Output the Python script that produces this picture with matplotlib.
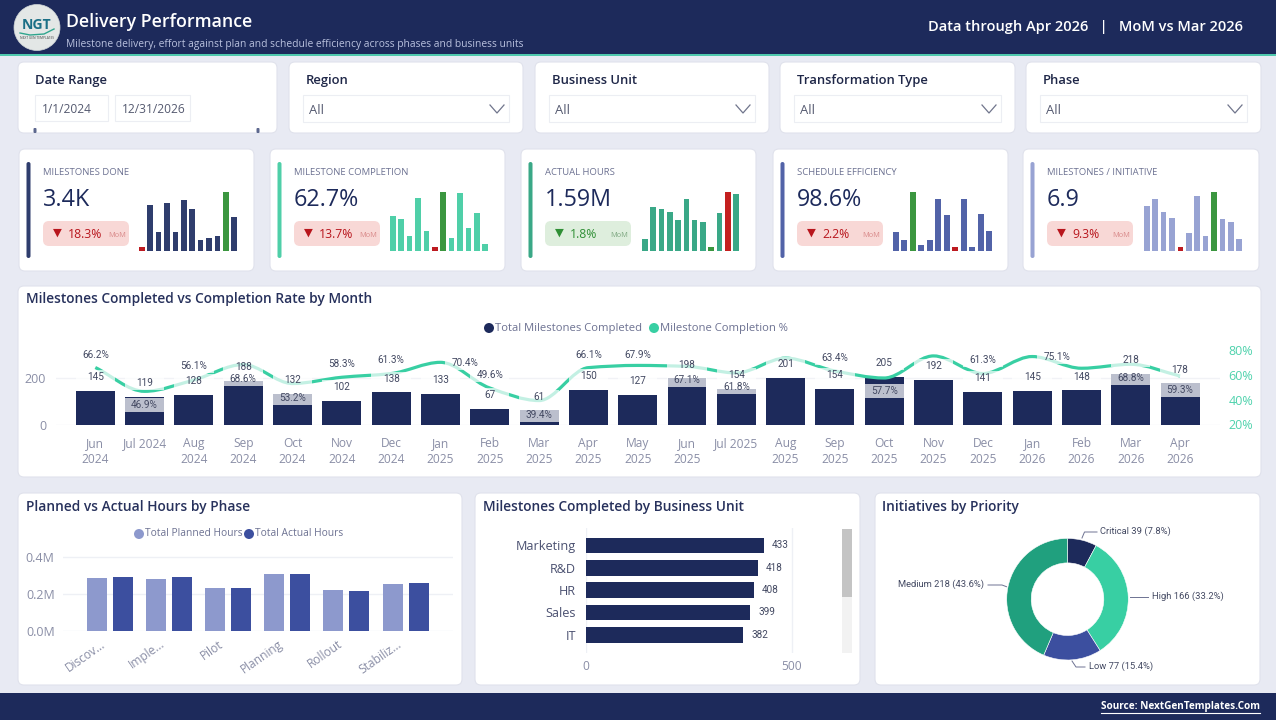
import numpy as np
import matplotlib
matplotlib.use('Agg')
import matplotlib.pyplot as plt
from matplotlib.patches import FancyBboxPatch, Rectangle, Circle, PathPatch
from matplotlib.path import Path

W, H = 1276, 720
plt.rcParams['font.family'] = ['Open Sans', 'DejaVu Sans']

# Datos
months = ['Jun\n2024', 'Jul 2024', 'Aug\n2024', 'Sep\n2024', 'Oct\n2024', 'Nov\n2024', 'Dec\n2024', 'Jan\n2025',
          'Feb\n2025', 'Mar\n2025', 'Apr\n2025', 'May\n2025', 'Jun\n2025', 'Jul 2025', 'Aug\n2025', 'Sep\n2025',
          'Oct\n2025', 'Nov\n2025', 'Dec\n2025', 'Jan\n2026', 'Feb\n2026', 'Mar\n2026', 'Apr\n2026']
milestones = [145, 119, 128, 188, 132, 102, 138, 133, 67, 61, 150, 127, 198, 154, 201, 154, 205, 192, 141, 145, 148, 218, 178]
completion = [66.2, 46.9, 56.1, 68.6, 53.2, 58.3, 61.3, 70.4, 49.6, 39.4, 66.1, 67.9, 67.1, 61.8, 73.8, 63.4, 57.7, 75.6,
              61.3, 75.1, 65.6, 68.8, 59.3]
hidden_pct = [14, 17, 20]

phases = ['Discov...', 'Imple...', 'Pilot', 'Planning', 'Rollout', 'Stabiliz...']
planned_hours = [283000, 279000, 232000, 308000, 222000, 252000]
actual_hours = [292000, 292000, 232000, 308000, 216000, 259000]

units = ['Marketing', 'R&D', 'HR', 'Sales', 'IT']
unit_done = [433, 418, 408, 399, 382]

priorities = ['Critical', 'High', 'Low', 'Medium']
priority_count = [39, 166, 77, 218]

kpi_names = ['MILESTONES DONE', 'MILESTONE COMPLETION', 'ACTUAL HOURS', 'SCHEDULE EFFICIENCY', 'MILESTONES / INITIATIVE']
kpi_values = ['3.4K', '62.7%', '1.59M', '98.6%', '6.9']
kpi_delta = ['18.3%', '13.7%', '1.8%', '2.2%', '9.3%']
kpi_good = [False, False, True, False, False]
spark1 = [10, 138, 56, 144, 56, 151, 126, 31, 39, 45, 176, 101]
spark2 = [103, 96, 44, 159, 59, 10, 176, 39, 173, 68, 112, 19]
spark3 = [36, 132, 124, 115, 93, 155, 93, 85, 10, 112, 176, 171]
spark4 = [56, 31, 176, 18, 31, 156, 107, 10, 154, 10, 111, 59]
spark5 = [133, 156, 116, 98, 10, 54, 163, 45, 176, 94, 85, 36]

filters = ['Region', 'Business Unit', 'Transformation Type', 'Phase']

# Estilos
NAVY = '#1d2a5b'
TEAL = '#38cfa3'
GREEN2 = '#20a07e'
BLUE = '#3c4f9f'
LILAC = '#8d99cd'
BG = '#e8eaf3'
TITLE = '#27315c'
GREY = '#8a8ea6'
LABEL = '#434962'
DATA_FONT = ['Roboto', 'DejaVu Sans']
UP = '#3b963f'
DOWN = '#bd1a20'

def fs(px):
    return px * 0.72

fig = plt.figure(figsize=(W / 100, H / 100), dpi=100, facecolor=BG)

bg = fig.add_axes([0, 0, 1, 1], zorder=0)
bg.set_xlim(0, W)
bg.set_ylim(H, 0)
bg.axis('off')

def px_axes(x0, y0, x1, y1, z=2):
    a = fig.add_axes([x0 / W, 1 - y1 / H, (x1 - x0) / W, (y1 - y0) / H], zorder=z)
    a.patch.set_alpha(0)
    return a

def card(x0, y0, x1, y1):
    bg.add_patch(FancyBboxPatch((x0, y0), x1 - x0, y1 - y0, boxstyle='round,pad=0,rounding_size=6',
                                fc='white', ec='#e0e2ec', lw=0.8))

def put(x, y, s, px, color=LABEL, ha='left', weight='normal', family=None):
    return bg.text(x, y + 1, s, fontsize=fs(px), color=color, ha=ha, va='center', weight=weight,
                   family=family if family else plt.rcParams['font.family'])

def clean(a):
    for s in a.spines.values():
        s.set_visible(False)
    a.tick_params(length=0)

# Cabecera y pie
bg.add_patch(Rectangle((0, 0), W, 54, fc=NAVY, ec='none'))
bg.add_patch(Rectangle((0, 54), W, 1.6, fc='#4fc9ad', ec='none'))
bg.add_patch(Rectangle((0, 693), W, 27, fc=NAVY, ec='none'))
bg.add_patch(Circle((37, 27.5), 23, fc='#e3e7e6', ec='#cfd5d6', lw=0.5))
put(37, 24, 'NGT', 14, color='#1b6f86', ha='center', weight='bold')
bg.plot([20, 30, 44, 54], [33, 35, 34, 29], color='#2fa58d', lw=1)
put(37, 37, 'NEXT GEN TEMPLATES', 3.2, color='#444444', ha='center')
put(66, 21, 'Delivery Performance', 17.7, color='white', weight='semibold')
put(66, 44, 'Milestone delivery, effort against plan and schedule efficiency across phases and business units',
    10.3, color='#b9c1de')
put(1243, 26.5, 'Data through Apr 2026   |   MoM vs Mar 2026', 14.6, color='white', ha='right', weight='semibold')
put(1260, 706, 'Source: NextGenTemplates.Com', 10, color='white', ha='right', weight='bold')
bg.plot([1101, 1260], [712.5, 712.5], color='white', lw=0.8)

# Filtros
card(18, 62, 277, 133)
put(35, 79.6, 'Date Range', 13, color='#1f2748', weight='semibold')
for x0, x1, s in [(35, 108, '1/1/2024'), (115, 190, '12/31/2026')]:
    bg.add_patch(Rectangle((x0, 95), x1 - x0, 26, fc='white', ec='#eceef3', lw=0.8))
    put(x0 + 7, 108.5, s, 12, color='#555a70')
for x in [35, 258]:
    bg.add_patch(FancyBboxPatch((x - 1.5, 128), 3, 5, boxstyle='round,pad=0,rounding_size=1', fc='#5d688f', ec='none'))

filter_x = [(289, 523), (535, 769), (780, 1015), (1026, 1261)]
for (x0, x1), name in zip(filter_x, filters):
    card(x0, 62, x1, 133)
    put(x0 + 17, 79.6, name, 13, color='#1f2748', weight='semibold')
    bg.add_patch(Rectangle((x0 + 14, 95), x1 - x0 - 28, 27, fc='white', ec='#eceef3', lw=0.8))
    put(x0 + 20, 109.5, 'All', 13, color='#555a70')
    cx = x1 - 26
    bg.plot([cx - 7, cx, cx + 7], [105, 113, 105], color='#70758c', lw=0.9)

# Tarjetas KPI
kpi_x = [(19, 254), (270, 505), (521, 756), (773, 1008), (1023, 1259)]
kpi_colors = ['#2f3d6d', '#4fcfa8', '#3aa887', '#5263a8', '#98a3d3']
spark_x = [(139, 237), (390, 488), (642, 739), (893, 992), (1144, 1242)]
sparks = [spark1, spark2, spark3, spark4, spark5]

for i in range(5):
    x0, x1 = kpi_x[i]
    card(x0, 149, x1, 271)
    bg.add_patch(FancyBboxPatch((x0 + 7.5, 162), 4, 96, boxstyle='round,pad=0,rounding_size=2',
                                fc=kpi_colors[i], ec='none'))
    put(x0 + 24, 171.5, kpi_names[i], 9.5, color='#6d7292', weight='medium')
    put(x0 + 24, 199, kpi_values[i], 23.2, color=NAVY)
    good = kpi_good[i]
    col = '#2f8f35' if good else '#b8151c'
    bg.add_patch(FancyBboxPatch((x0 + 24, 221), 86, 25, boxstyle='round,pad=0,rounding_size=6',
                                fc='#deeedd' if good else '#f8d8d6', ec='none'))
    put(x0 + 38, 232, '▼', 11.5, color=col, ha='center', family='DejaVu Sans')
    put(x0 + 49, 233.5, kpi_delta[i], 12.3, color=col)
    put(x0 + 107, 234.5, 'MoM', 7.5, color='#7fa882' if good else '#d98a8a', ha='right')

    sx0, sx1 = spark_x[i]
    sp = px_axes(sx0, 185, sx1, 250.5)
    vals = sparks[i]
    cols = [kpi_colors[i]] * 12
    hi = int(np.argmax(vals))
    lo = int(np.argmin(vals))
    # en horas la lectura es al reves: mas alto en rojo
    cols[hi] = '#c4201f' if i == 2 else UP
    cols[lo] = UP if i == 2 else DOWN
    sp.bar(range(12), vals, width=0.68, color=cols)
    sp.set_xlim(-0.34, 11.34)
    sp.set_ylim(0, 176 * 65.5 / 58.6)
    sp.axis('off')

# Paneles
card(18, 286, 1261, 477)
card(18, 493, 462, 685)
card(475, 493, 860, 685)
card(875, 493, 1260, 685)
put(26, 298.5, 'Milestones Completed vs Completion Rate by Month', 13.8, color=TITLE, weight='semibold')
put(26, 506.5, 'Planned vs Actual Hours by Phase', 13.8, color=TITLE, weight='semibold')
put(483, 506.5, 'Milestones Completed by Business Unit', 13.8, color=TITLE, weight='semibold')
put(882, 506.5, 'Initiatives by Priority', 13.8, color=TITLE, weight='semibold')

bg.add_patch(Circle((489, 328), 5, fc=NAVY, ec='none'))
put(495, 327, 'Total Milestones Completed', 11.2, color='#6d7292')
bg.add_patch(Circle((654, 328), 5, fc=TEAL, ec='none'))
put(660, 327, 'Milestone Completion %', 11.3, color='#6d7292')

# Barras y linea por mes
ax = px_axes(56, 345, 1220, 424.5)
idx = np.arange(len(months))
ax.bar(idx, milestones, width=0.79, color=NAVY, zorder=3)
ax.set_xlim(-0.797, 22.81)
ax.set_ylim(0, 79.5 * 200 / 46.6)
ax.set_yticks([0, 200])
ax.set_xticks(idx)
ax.set_xticklabels(months, fontsize=fs(12), color=GREY, linespacing=1.3)
ax.tick_params(axis='x', pad=9)
ax.tick_params(axis='y', labelsize=fs(12.5), labelcolor=GREY, pad=7)
ax.grid(axis='y', color='#f1f2f6', lw=1)
ax.set_axisbelow(True)
clean(ax)

ax2 = ax.twinx()
ax2.patch.set_alpha(0)
ax2.set_ylim(20, 20 + 79.5 / 1.2335)
ax2.set_yticks([20, 40, 60, 80])
ax2.set_yticklabels(['20%', '40%', '60%', '80%'], fontsize=fs(12.5), color='#4ed2ac')
ax2.tick_params(axis='y', pad=6)
clean(ax2)

# curva suave monotona que pasa por cada valor del mes
y = np.array(completion)
d = np.diff(y)
m = np.zeros(len(y))
for i in range(1, len(y) - 1):
    if d[i - 1] * d[i] > 0:
        m[i] = 2 * d[i - 1] * d[i] / (d[i - 1] + d[i])
m[0], m[-1] = d[0], d[-1]
verts = [(idx[0], y[0])]
codes = [Path.MOVETO]
for i in range(len(y) - 1):
    verts += [(idx[i] + 1 / 3, y[i] + m[i] / 3), (idx[i + 1] - 1 / 3, y[i + 1] - m[i + 1] / 3), (idx[i + 1], y[i + 1])]
    codes += [Path.CURVE4] * 3
ax2.add_patch(PathPatch(Path(verts, codes), fc='none', ec=TEAL, lw=2.3, zorder=2))

# etiquetas con fondo blanco translucido
pct_dy = [-12.4, 14, -13.5, 14, 14, -13.5, -13.7, 0.5, -13.3, 14.5, -12.5, -10, 14, 14, 0, -13, 13.5, 0, -13.7, 0.6, 0, 14, 14]
pct_dx = {7: 24.6, 19: 24.7}
bar_unit = 200 / 46.6
pct_unit = 1 / 1.2335
for i in idx:
    ax2.add_patch(Rectangle((i - 0.4, milestones[i] + 6.5 * bar_unit), 0.8, 14 * bar_unit, fc='white', ec='none',
                            alpha=0.7, transform=ax.transData, zorder=3, clip_on=False))
    ax2.annotate(str(milestones[i]), (i, milestones[i]), xycoords=ax.transData, xytext=(0, 13.5),
                 textcoords='offset pixels', ha='center', va='center', fontsize=fs(10), color=LABEL,
                 family=DATA_FONT, zorder=5, annotation_clip=False)
    if i in hidden_pct:
        continue
    dx = pct_dx.get(i, 0)
    yc = completion[i] - pct_dy[i] * pct_unit
    ax2.add_patch(Rectangle((i + dx / 49.3 - 0.4, yc - 7 * pct_unit), 0.8, 14 * pct_unit, fc='white', ec='none',
                            alpha=0.7, zorder=3, clip_on=False))
    ax2.annotate(f'{completion[i]}%', (i, completion[i]), xytext=(dx, -pct_dy[i]),
                 textcoords='offset pixels', ha='center', va='center', fontsize=fs(10), color=LABEL,
                 family=DATA_FONT, zorder=5, annotation_clip=False)

# Horas por fase
bg.add_patch(Circle((139, 534), 5, fc=LILAC, ec='none'))
put(145, 533, 'Total Planned Hours', 10.3, color='#6d7292')
bg.add_patch(Circle((249, 534), 5, fc=BLUE, ec='none'))
put(255, 533, 'Total Actual Hours', 10.3, color='#6d7292')

ax3 = px_axes(63, 548, 453, 630.5)
pos = np.arange(len(phases))
ax3.bar(pos - 0.22, planned_hours, width=0.338, color=LILAC, zorder=3)
ax3.bar(pos + 0.22, actual_hours, width=0.338, color=BLUE, zorder=3)
ax3.set_xlim(-0.789, 5.80)
ax3.set_ylim(0, 82.5 / 36.9 * 200000)
ax3.set_yticks([0, 200000, 400000])
ax3.set_yticklabels(['0.0M', '0.2M', '0.4M'], fontsize=fs(12.5), color=GREY)
# las etiquetas giradas terminan a la izquierda del centro del grupo
ax3.set_xticks(pos - 0.16)
ax3.set_xticklabels(phases, fontsize=fs(12), color=GREY, rotation=35, ha='right', rotation_mode='anchor')
ax3.tick_params(axis='x', pad=5)
ax3.tick_params(axis='y', pad=6)
ax3.grid(axis='y', color='#eef0f5', lw=1)
ax3.set_axisbelow(True)
clean(ax3)

# Hitos por unidad de negocio
ax4 = px_axes(585.7, 527.7, 800, 653)
ypos = np.arange(len(units))
ax4.barh(ypos, unit_done, height=0.70, color=NAVY, zorder=3)
ax4.set_xlim(0, (800 - 585.7) / 206 * 500)
ax4.set_ylim(4.82, -0.798)
ax4.set_yticks(ypos)
ax4.set_yticklabels(units, fontsize=fs(12.6), color='#4a5070')
ax4.set_xticks([0, 500])
ax4.set_xticklabels(['0', '500'], fontsize=fs(12), color=GREY)
ax4.tick_params(axis='y', pad=7)
ax4.tick_params(axis='x', pad=5)
ax4.grid(axis='x', color='#eef0f5', lw=1)
ax4.set_axisbelow(True)
clean(ax4)
for yy, v in zip(ypos, unit_done):
    ax4.annotate(str(v), (v, yy), xytext=(8, 0), textcoords='offset pixels', va='center', fontsize=fs(10),
                 color=LABEL, family=DATA_FONT)
bg.add_patch(Rectangle((842.3, 596.7), 9.4, 56.3, fc='#f2f2f2', ec='none'))
bg.add_patch(Rectangle((842.3, 529), 9.4, 67.7, fc='#c4c4c4', ec='none'))

# Anillo de prioridades
cx, cy, r = 1067.5, 599.2, 60.8
ax5 = px_axes(cx - r, cy - r, cx + r, cy + r)
ax5.pie(priority_count, colors=[NAVY, TEAL, BLUE, GREEN2], startangle=90, counterclock=False, radius=1,
        wedgeprops=dict(width=1 - 36.3 / 60.8, ec='white', lw=0.4))
ax5.set_xlim(-1, 1)
ax5.set_ylim(-1, 1)

total = sum(priority_count)
donut_text = [f'{n} {v} ({v / total:.1%})' for n, v in zip(priorities, priority_count)]
put(1100, 530.7, donut_text[0], 9.4, family=DATA_FONT)
put(1152, 595.3, donut_text[1], 9.4, family=DATA_FONT)
put(1089, 665.3, donut_text[2], 9.4, family=DATA_FONT)
put(984, 583.7, donut_text[3], 9.4, ha='right', family=DATA_FONT)
lead = '#6d7292'
bg.plot([1082, 1084.5, 1097], [538, 532, 532], color=lead, lw=0.7)
bg.plot([1130, 1148], [596.5, 596.5], color=lead, lw=0.7)
bg.plot([1072, 1076, 1085], [661, 667, 667], color=lead, lw=0.7)
bg.plot([988, 1002, 1006.5], [585, 585, 586.7], color=lead, lw=0.7)

bg.set_xlim(0, W)
bg.set_ylim(H, 0)
fig.savefig('out.png', dpi=100, facecolor=BG)
